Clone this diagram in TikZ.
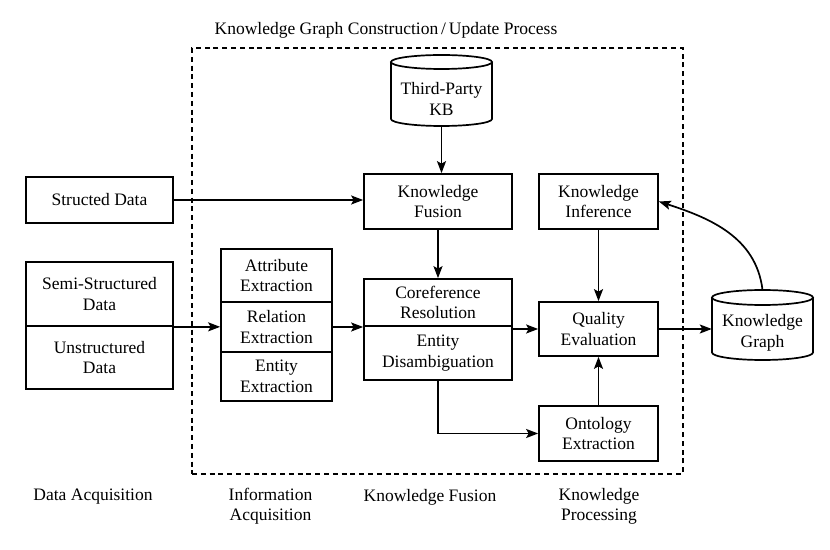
\documentclass[tikz,border=0pt]{standalone}
\usepackage{fontspec}
\setmainfont{Liberation Serif}[Ligatures=TeX]
\newfontfamily\tmsfont{Liberation Serif}
\usetikzlibrary{arrows.meta,calc}
\begin{document}
\begin{tikzpicture}[x=1pt,y=1pt,
  every node/.style={font=\tmsfont\fontsize{17.5}{20.5}\selectfont},
  box/.style={draw, line width=1.7pt, align=center, inner sep=0pt},
  lbl/.style={align=center, inner sep=0pt},
  ghost/.style={inner sep=0pt},
  cyl/.style={line width=1.7pt},
  arr/.style={line width=1.7pt, -{Stealth[length=12pt,width=9pt,inset=2.5pt]}},
  frame/.style={draw, line width=1.3pt, dash pattern=on 5pt off 3.8pt, inner sep=0pt}
]
\useasboundingbox (0,0) rectangle (830,549);
\fill[white] (0,0) rectangle (830,549);

% frame and title
\node[frame, minimum width=491pt, minimum height=426pt] (frm) at (437.5,288) {};
\node[lbl] (title) at (386,519) {Knowledge Graph Construction\,/\,Update Process};

% Third-party KB cylinder
\draw[cyl] (441.5,487) ellipse [x radius=50.5, y radius=7];
\draw[cyl] (391,487) -- (391,430) arc[start angle=180, end angle=360, x radius=50.5, y radius=7] -- (492,487);
\node[ghost, minimum width=101pt, minimum height=71pt] (kb) at (441.5,458.5) {};
\node[lbl] (kbt) at (441.5,450) {Third-Party\\KB};

% Knowledge graph cylinder
\draw[cyl] (762.5,251.5) ellipse [x radius=50.5, y radius=7.5];
\draw[cyl] (712,251.5) -- (712,196.5) arc[start angle=180, end angle=360, x radius=50.5, y radius=7.5] -- (813,251.5);
\node[ghost, minimum width=101pt, minimum height=70pt] (kg) at (762.5,224) {};
\node[lbl] (kgt) at (762.5,216) {Knowledge\\Graph};

% boxes
\node[box, minimum width=147pt, minimum height=46pt] (sd) at (99.5,349) {Structed Data};
\node[box, minimum width=147pt, minimum height=64pt] (semi) at (99.5,255) {Semi-Structured\\Data};
\node[box, minimum width=147pt, minimum height=63pt] (unst) at (99.5,191.5) {Unstructured\\Data};

\node[box, minimum width=111pt, minimum height=53pt] (attr) at (276.5,273.5) {Attribute\\Extraction};
\node[box, minimum width=111pt, minimum height=50pt] (rel) at (276.5,222) {Relation\\Extraction};
\node[box, minimum width=111pt, minimum height=49pt] (ent) at (276.5,172.5) {Entity\\Extraction};

\node[box, minimum width=148pt, minimum height=55pt] (kf) at (438,347.5) {Knowledge\\Fusion};
\node[box, minimum width=148pt, minimum height=47pt] (coref) at (438,246.5) {Coreference\\Resolution};
\node[box, minimum width=148pt, minimum height=54pt] (dis) at (438,196) {Entity\\Disambiguation};

\node[box, minimum width=119pt, minimum height=55pt] (ki) at (598.5,347.5) {Knowledge\\Inference};
\node[box, minimum width=119pt, minimum height=54pt] (qe) at (598.5,220) {Quality\\Evaluation};
\node[box, minimum width=119pt, minimum height=55pt] (onto) at (598.5,115.5) {Ontology\\Extraction};

% bottom labels
\node[lbl] (l1) at (93,52) {Data Acquisition};
\node[lbl] (l2) at (270.5,42.6) {Information\\Acquisition};
\node[lbl] (l3) at (430,52) {Knowledge Fusion};
\node[lbl] (l4) at (599,42.6) {Knowledge\\Processing};

% connectors
\draw[arr] (sd.east) -- (sd.east -| kf.west);
\draw[arr] (kb.south) -- (kb.south |- kf.north);
\draw[arr] (kf.south) -- (coref.north);
\draw[arr] (semi.south east) -- (semi.south east -| rel.west);
\draw[arr] (rel.east) -- (rel.east -| dis.west);
\draw[arr] (qe.west -| dis.east) -- (qe.west);
\draw[arr] (ki.south) -- (qe.north);
\draw[arr] (onto.north) -- (qe.south);
\draw[arr] (dis.south) |- (onto.west);
\draw[arr] (qe.east) -- (qe.east -| kg.west);
\draw[arr] (kg.north) to[out=97,in=-18] (ki.east);
\end{tikzpicture}
\end{document}
